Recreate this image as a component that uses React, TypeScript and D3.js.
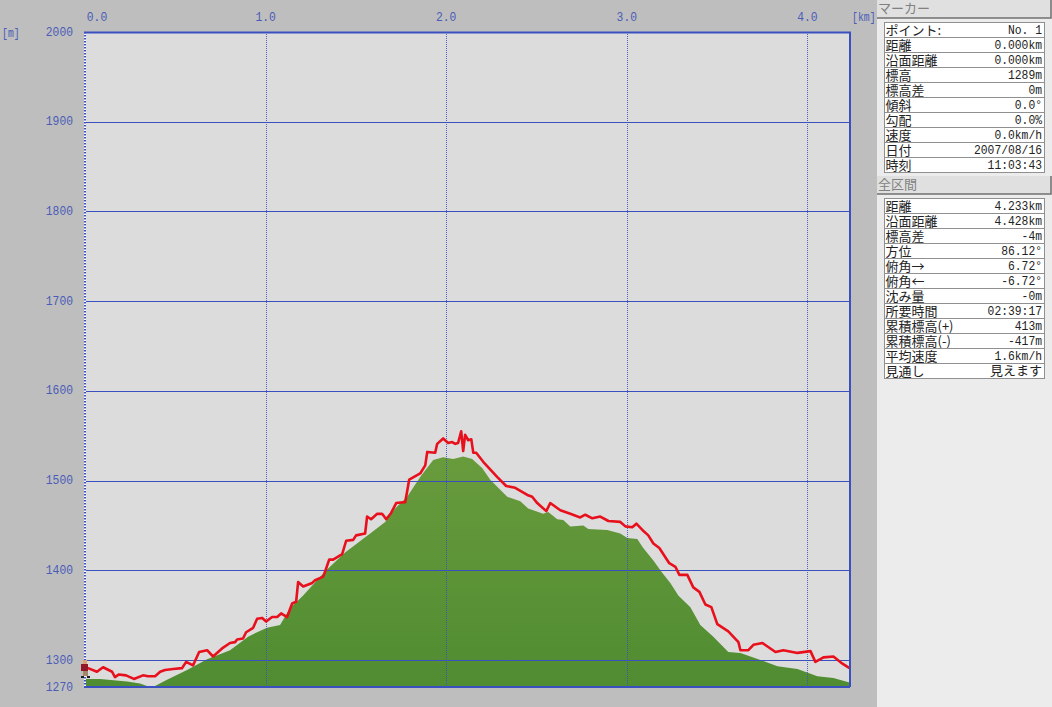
import React from "react";
import * as d3 from "d3";

const trackKm = [0,.017,.066,.100,.150,.166,.188,.227,.271,.321,.349,.388,.416,.443,.488,.537,.560,.598,.632,.676,.709,.759,.803,.831,.842,.875,.892,.931,.953,.981,1.003,1.036,1.064,1.086,1.119,1.147,1.169,1.180,1.208,1.258,1.274,1.319,1.330,1.352,1.374,1.424,1.446,1.485,1.501,1.551,1.562,1.584,1.618,1.645,1.668,1.695,1.723,1.773,1.795,1.856,1.884,1.895,1.939,1.950,1.983,2.011,2.033,2.050,2.066,2.083,2.094,2.105,2.122,2.139,2.150,2.166,2.205,2.283,2.332,2.382,2.449,2.476,2.504,2.554,2.576,2.632,2.687,2.742,2.770,2.809,2.853,2.898,2.964,2.992,3.030,3.053,3.086,3.119,3.147,3.180,3.235,3.269,3.291,3.335,3.368,3.402,3.435,3.468,3.501,3.562,3.618,3.629,3.673,3.701,3.751,3.823,3.867,3.945,4.017,4.044,4.089,4.144,4.194,4.233];
const trackM = [1292,1291,1287,1292,1287,1281,1284,1283,1279,1283,1282,1282,1287,1289,1290,1291,1298,1294,1309,1311,1304,1313,1319,1320,1323,1324,1331,1336,1346,1347,1343,1348,1348,1352,1348,1363,1365,1387,1382,1386,1389,1393,1399,1412,1412,1418,1433,1434,1439,1441,1460,1457,1463,1463,1457,1464,1475,1476,1501,1508,1517,1532,1531,1541,1547,1542,1543,1541,1542,1555,1533,1551,1545,1546,1531,1531,1521,1504,1494,1492,1484,1482,1475,1466,1475,1467,1463,1459,1462,1458,1460,1455,1454,1449,1448,1452,1445,1439,1430,1425,1408,1404,1395,1395,1381,1376,1362,1359,1340,1332,1320,1311,1311,1317,1319,1309,1311,1308,1310,1298,1303,1304,1296,1291];

const groundKm = [0,.083,.233,.305,.343,.388,.454,.565,.676,.803,.903,.953,1.008,1.080,1.136,1.208,1.330,1.440,1.579,1.662,1.717,1.784,1.856,1.928,1.983,2.039,2.094,2.144,2.199,2.244,2.288,2.338,2.410,2.454,2.537,2.565,2.615,2.648,2.687,2.759,2.787,2.892,2.964,3.003,3.058,3.091,3.147,3.197,3.241,3.285,3.352,3.407,3.479,3.562,3.629,3.756,3.834,3.945,4.055,4.144,4.233];
const groundM = [1279,1279,1276,1274,1271,1271,1278,1289,1301,1311,1326,1331,1336,1339,1358,1372,1399,1420,1441,1454,1469,1482,1504,1523,1526,1524,1527,1524,1514,1501,1492,1482,1477,1469,1463,1465,1457,1456,1449,1450,1446,1445,1441,1436,1435,1425,1411,1397,1386,1372,1359,1339,1326,1309,1308,1299,1293,1290,1282,1280,1275];

const xTicks = [0, 1, 2, 3, 4];
const yTicks = [1300, 1400, 1500, 1600, 1700, 1800, 1900, 2000];
const yLabelTicks = [1270, 1300, 1400, 1500, 1600, 1700, 1800, 1900, 2000];

const markerLabels = ["ポイント:","距離","沿面距離","標高","標高差","傾斜","勾配","速度","日付","時刻"];
const markerValues = ["No. 1","0.000km","0.000km","1289m","0m","0.0°","0.0%","0.0km/h","2007/08/16","11:03:43"];
const totalLabels = ["距離","沿面距離","標高差","方位","俯角→","俯角←","沈み量","所要時間","累積標高(+)","累積標高(-)","平均速度","見通し"];
const totalValues = ["4.233km","4.428km","-4m","86.12°","6.72°","-6.72°","-0m","02:39:17","413m","-417m","1.6km/h","見えます"];

const FONT = '"Liberation Mono",monospace';
const JP = '"Noto Sans CJK JP",sans-serif';
const BLUE = "#3a4fc0";
const TXT = "#4a5cb8";

const x = d3.scaleLinear().domain([0, 4.233]).range([85, 849.5]);
const y = d3.scaleLinear().domain([1270, 2000]).range([687, 32]);

const track = d3.line<number>().x((_, i) => x(trackKm[i])).y((d) => y(d));
const ground = d3.area<number>().x((_, i) => x(groundKm[i])).y0(y(1270)).y1((d) => y(d));

function Mono({ s, px, py, anchor, fill, cw = 6.8 }: { s: string; px: number; py: number; anchor?: string; fill: string; cw?: number }) {
  const isJp = /[\u3040-\u9fff]/.test(s);
  if (isJp) {
    return <text x={px} y={py} textAnchor={anchor} fontFamily={JP} fontSize={13} fill={fill}>{s}</text>;
  }
  return (
    <text x={px} y={py} textAnchor={anchor} fontFamily={FONT} fontSize={13.5} fill={fill}
      textLength={s.length * cw} lengthAdjust="spacingAndGlyphs">{s}</text>
  );
}

function Panel({ title, top, labels, values }: { title: string; top: number; labels: string[]; values: string[] }) {
  const rowH = 15;
  const tableTop = top + 23;
  return (
    <g>
      <rect x={877} y={top} width={175} height={18} fill="#e0e0e0" />
      <path d={`M877 ${top + 18}H1051V${top}`} fill="none" stroke="#707070" strokeWidth={1.5} />
      <text x={878} y={top + 13} fontFamily={JP} fontSize={13} fill="#808080">{title}</text>
      <rect x={884.5} y={tableTop - 0.5} width={160} height={rowH * labels.length} fill="#ffffff" stroke="#909090" />
      {labels.map((l, i) => (
        <g key={l + i}>
          {i > 0 && <line x1={884.5} x2={1044.5} y1={tableTop - 0.5 + i * rowH} y2={tableTop - 0.5 + i * rowH} stroke="#909090" />}
          <text x={885.5} y={tableTop + i * rowH + 11.5} fontFamily={JP} fontSize={13} fill="#222">{l}</text>
          <Mono s={values[i]} px={1042} py={tableTop + i * rowH + 11} anchor="end" fill="#222" />
        </g>
      ))}
    </g>
  );
}

export default function App() {
  return (
    <svg width={1052} height={707} style={{ position: "absolute", left: 0, top: 0, display: "block" }}>
      <defs>
        <linearGradient id="g" gradientUnits="userSpaceOnUse" x1={0} x2={0} y1={y(1527)} y2={y(1270)}>
          <stop offset="0" stopColor="#689b3c" />
          <stop offset="1" stopColor="#508c32" />
        </linearGradient>
      </defs>
      <rect width={1052} height={707} fill="#bebebe" />
      <rect x={877} y={0} width={175} height={707} fill="#ececec" />
      <rect x={85} y={32} width={765} height={655} fill="#dcdcdc" />
      <path d={ground(groundM) ?? ""} fill="url(#g)" />
      {yTicks.slice(0, -1).map((t) => (
        <line key={t} x1={85} x2={850} y1={Math.round(y(t)) + 0.5} y2={Math.round(y(t)) + 0.5} stroke={BLUE} strokeWidth={1} />
      ))}
      {xTicks.slice(1).map((t) => (
        <line key={t} x1={Math.round(x(t)) + 0.5} x2={Math.round(x(t)) + 0.5} y1={32} y2={687} stroke={BLUE} strokeWidth={1} strokeDasharray="1 1" opacity={0.85} />
      ))}
      <path d={track(trackM) ?? ""} fill="none" stroke="#e8101c" strokeWidth={2.6} strokeLinejoin="round" />
      <line x1={85} x2={85} y1={32} y2={687} stroke="#ffffff" strokeWidth={2} />
      <line x1={85} x2={85} y1={32} y2={687} stroke={BLUE} strokeWidth={2} strokeDasharray="1.5 1.5" />
      <path d="M84 32.5H850V687M84 687H850" fill="none" stroke={BLUE} strokeWidth={2} />
      {xTicks.map((t) => (
        <Mono key={t} s={t.toFixed(1)} px={t === 0 ? 97 : x(t)} py={21} anchor="middle" fill={TXT} />
      ))}
      <Mono s="[km]" px={852} py={21} fill={TXT} cw={5.9} />
      <Mono s="[m]" px={2} py={37} fill={TXT} cw={5.9} />
      {yLabelTicks.map((t) => (
        <Mono key={t} s={String(t)} px={73} py={y(t) + 3.5} anchor="end" fill={TXT} />
      ))}
      <g>
        <rect x={83} y={660} width={4} height={4} fill="#e0a070" />
        <rect x={81} y={664} width={7} height={7} fill="#901828" />
        <rect x={83} y={671} width={5} height={5} fill="#a08868" />
        <rect x={81} y={676} width={3} height={2} fill="#202020" />
        <rect x={87} y={676} width={3} height={2} fill="#202020" />
      </g>
      <Panel title="マーカー" top={0} labels={markerLabels} values={markerValues} />
      <Panel title="全区間" top={176} labels={totalLabels} values={totalValues} />
    </svg>
  );
}
